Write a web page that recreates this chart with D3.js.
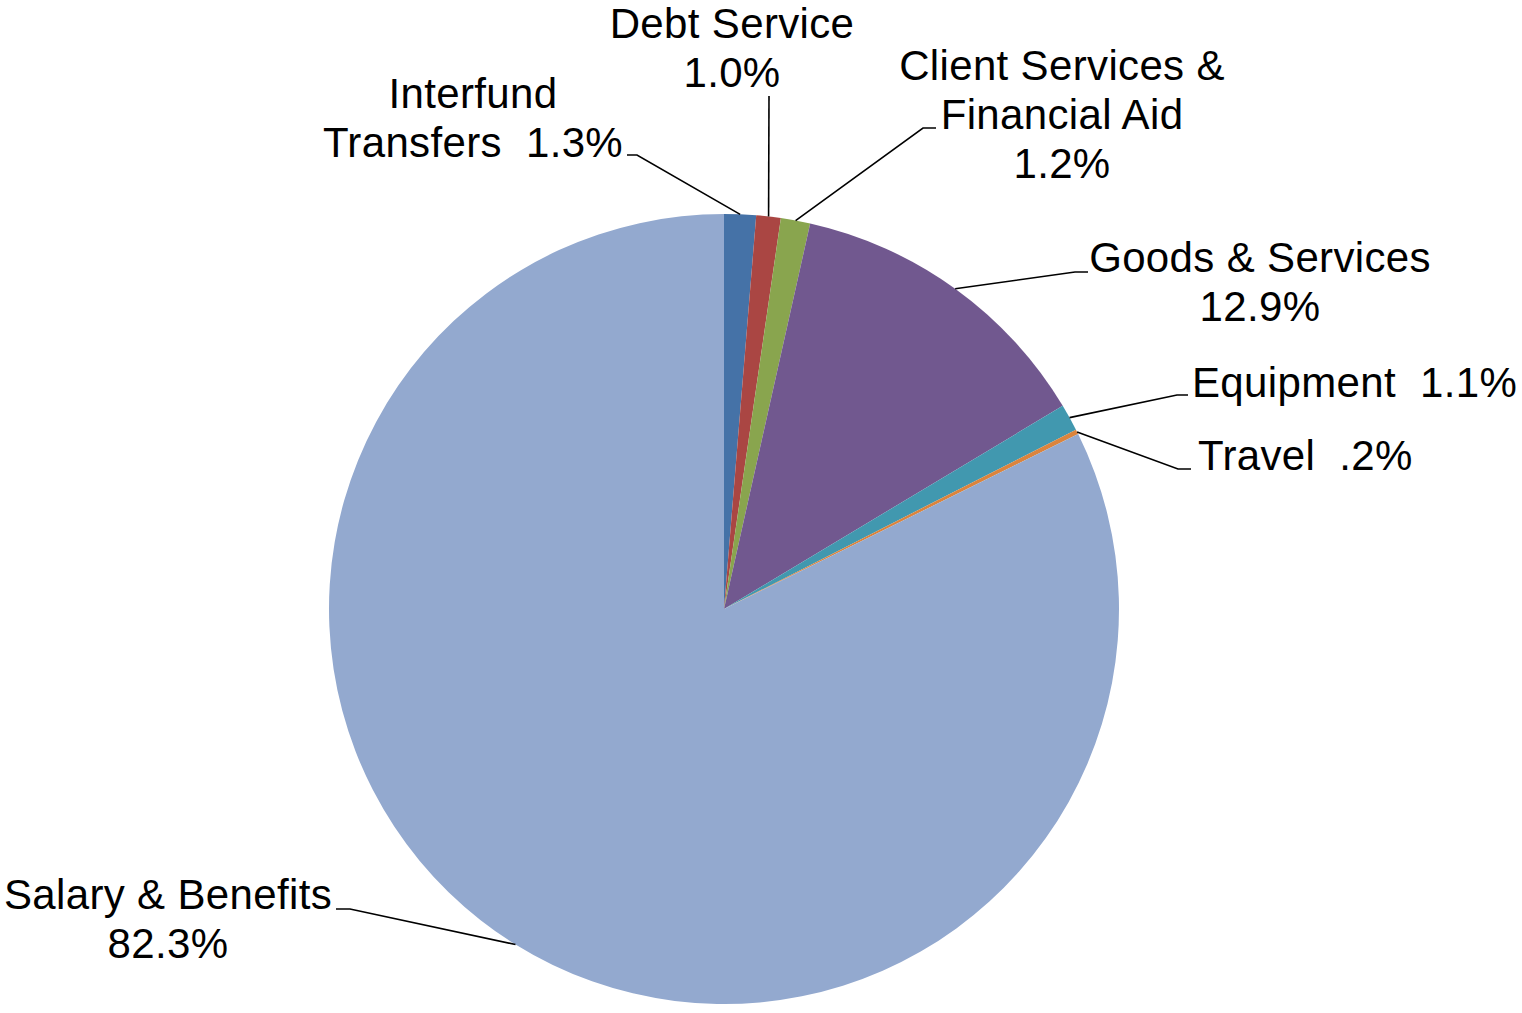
<!DOCTYPE html>
<html>
<head>
<meta charset="utf-8">
<script src="https://cdn.jsdelivr.net/npm/d3@7"></script>
<style>
  html, body { margin: 0; padding: 0; background: #ffffff; }
  svg { display: block; }
  text { font-family: Arial, "Liberation Sans", sans-serif; fill: #000; white-space: pre; }
</style>
</head>
<body>
<svg id="chart" width="1522" height="1013"></svg>
<script>
// Expenditure shares (percent), clockwise from 12 o'clock
const categories = [
  "Interfund Transfers",
  "Debt Service",
  "Client Services & Financial Aid",
  "Goods & Services",
  "Equipment",
  "Travel",
  "Salary & Benefits"
];
const values = [1.3, 1.0, 1.2, 12.9, 1.1, 0.2, 82.3];

// Data-label wording; {v} is replaced by the formatted share
const labelLines = [
  ["Interfund", "Transfers  {v}"],
  ["Debt Service", "{v}"],
  ["Client Services &", "Financial Aid", "{v}"],
  ["Goods & Services", "{v}"],
  ["Equipment  {v}"],
  ["Travel  {v}"],
  ["Salary & Benefits", "{v}"]
];

const colors = ["#4572A7", "#AA4643", "#89A54E", "#71588F", "#4198AF", "#DB843D", "#93A9CF"];

// Label placement: text anchor point (first baseline) and leader-line elbow/end
const labelLayout = [
  { x: 473,  y: 108, anchor: "middle", elbow: [637, 155], end: [627, 155] },
  { x: 732,  y: 38,  anchor: "middle", elbow: null,        end: [769, 96] },
  { x: 1062, y: 80,  anchor: "middle", elbow: [923, 128], end: [936, 128] },
  { x: 1260, y: 272, anchor: "middle", elbow: [1075, 272], end: [1088, 272] },
  { x: 1192, y: 397, anchor: "start",  elbow: [1177, 395], end: [1188, 395] },
  { x: 1198, y: 470, anchor: "start",  elbow: [1178, 469], end: [1191, 469] },
  { x: 168,  y: 909, anchor: "middle", elbow: [350, 909], end: [336, 909] }
];

const fontSize = 42;
const letterSpacing = 0.35;
const lineGap = 49;

// "#.0%" style: one decimal, no leading zero below 1
function fmtPct(v) {
  let s = v.toFixed(1);
  if (s.startsWith("0")) s = s.slice(1);
  return s + "%";
}

const svg = d3.select("#chart");
const cx = 724, cy = 609, radius = 395;

const data = categories.map((c, i) => ({ name: c, value: values[i], color: colors[i], lines: labelLines[i], layout: labelLayout[i] }));

const pie = d3.pie().sort(null).value(d => d.value).startAngle(0).endAngle(2 * Math.PI);
const arcs = pie(data);

const arc = d3.arc().innerRadius(0).outerRadius(radius);
const edgeArc = d3.arc().innerRadius(radius).outerRadius(radius);

const g = svg.append("g").attr("transform", `translate(${cx},${cy})`);

g.selectAll("path.slice")
  .data(arcs)
  .join("path")
  .attr("class", "slice")
  .attr("d", arc)
  .attr("fill", d => d.data.color);

// Leader lines from the slice edge to the label
svg.append("g")
  .selectAll("polyline")
  .data(arcs)
  .join("polyline")
  .attr("fill", "none")
  .attr("stroke", "#000")
  .attr("stroke-width", 1.6)
  .attr("points", d => {
    const [ex, ey] = edgeArc.centroid(d);
    const pts = [[cx + ex, cy + ey]];
    if (d.data.layout.elbow) pts.push(d.data.layout.elbow);
    pts.push(d.data.layout.end);
    return pts.map(p => p.join(",")).join(" ");
  });

// Data labels
const labels = svg.append("g")
  .selectAll("text")
  .data(arcs)
  .join("text")
  .attr("font-size", fontSize)
  .attr("letter-spacing", letterSpacing)
  .attr("text-anchor", d => d.data.layout.anchor)
  .attr("x", d => d.data.layout.x)
  .attr("y", d => d.data.layout.y);

labels.selectAll("tspan")
  .data(d => d.data.lines.map((ln, i) => ({ text: ln.replace("{v}", fmtPct(d.data.value)), i, x: d.data.layout.x })))
  .join("tspan")
  .attr("x", t => t.x)
  .attr("dy", t => t.i === 0 ? 0 : lineGap)
  .text(t => t.text);
</script>
</body>
</html>
